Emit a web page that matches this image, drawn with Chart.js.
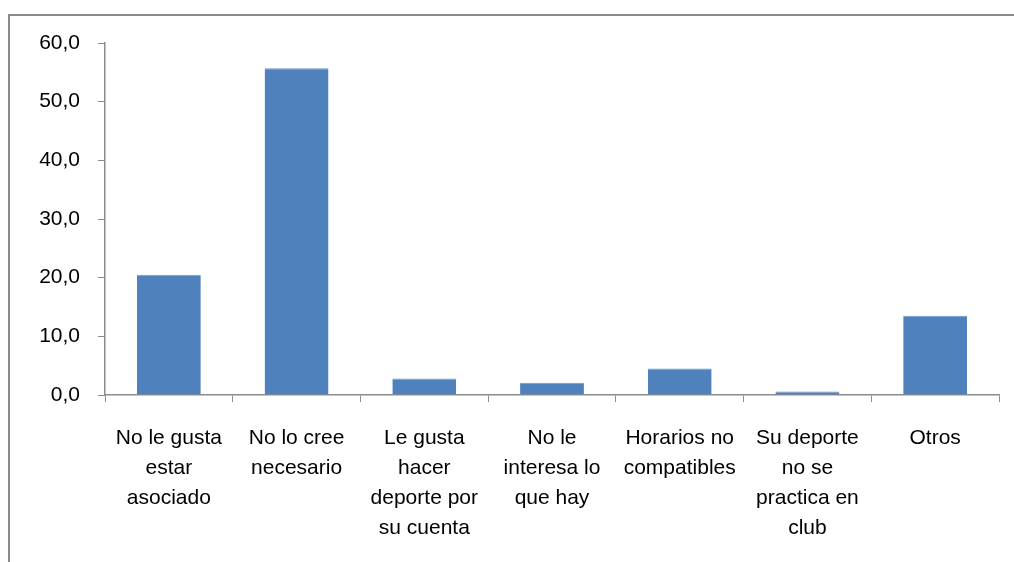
<!DOCTYPE html>
<html>
<head>
<meta charset="utf-8">
<script src="https://cdn.jsdelivr.net/npm/chart.js@4"></script>
<style>
    body { margin: 0; background: #fff; }
    #frame { position: absolute; left: 8px; top: 14px; width: 1100px; height: 600px; border-top: 2px solid #8a8a8a; border-left: 2px solid #8a8a8a; }
    #wrap { position: absolute; left: 0; top: 0; width: 1014px; height: 562px; }
</style>
</head>
<body>
<div id="frame"></div>
<div id="wrap"><canvas id="chart"></canvas></div>
<script>
// Categories (x axis), already split in lines as in the picture
const categories = [
    ['No le gusta', 'estar', 'asociado'],
    ['No lo cree', 'necesario'],
    ['Le gusta', 'hacer', 'deporte por', 'su cuenta'],
    ['No le', 'interesa lo', 'que hay'],
    ['Horarios no', 'compatibles'],
    ['Su deporte', 'no se', 'practica en', 'club'],
    ['Otros']
];
// Percent values for each category
const values = [20.5, 55.7, 2.8, 2.1, 4.5, 0.6, 13.5];

const axisColor = '#8c8c8c';
const font = { family: 'Liberation Sans, Arial, sans-serif', size: 21, lineHeight: 1.43 };

let ctx = document.getElementById('chart').getContext('2d');
new Chart(ctx, {
    type: 'bar',
    data: {
        labels: categories,
        datasets: [{
            data: values,
            backgroundColor: '#4f81bd',
            borderColor: '#6d97c9',
            borderWidth: { top: 1, left: 0, right: 0, bottom: 0 },
            barPercentage: 0.5,
            categoryPercentage: 1
        }]
    },
    options: {
        responsive: true,
        maintainAspectRatio: false,
        animation: false,
        layout: { padding: { top: 43, right: 15, left: 0, bottom: 0 } },
        plugins: { legend: { display: false }, tooltip: { enabled: false } },
        scales: {
            x: {
                grid: { display: true, drawOnChartArea: false, color: axisColor, tickLength: 7, offset: true },
                border: { color: axisColor, width: 1.5 },
                ticks: { color: '#000', font: font, padding: 21, maxRotation: 0, autoSkip: false },
                afterFit: s => { s.height = 167; }
            },
            y: {
                min: 0,
                max: 60,
                grid: { display: true, drawOnChartArea: false, color: axisColor, tickLength: 7 },
                border: { color: axisColor, width: 1.5 },
                ticks: {
                    stepSize: 10,
                    color: '#000',
                    font: { family: font.family, size: 21 },
                    padding: 18,
                    callback: v => v.toFixed(1).replace('.', ',')
                },
                afterFit: s => { s.width = 105; }
            }
        }
    }
});
</script>
</body>
</html>
